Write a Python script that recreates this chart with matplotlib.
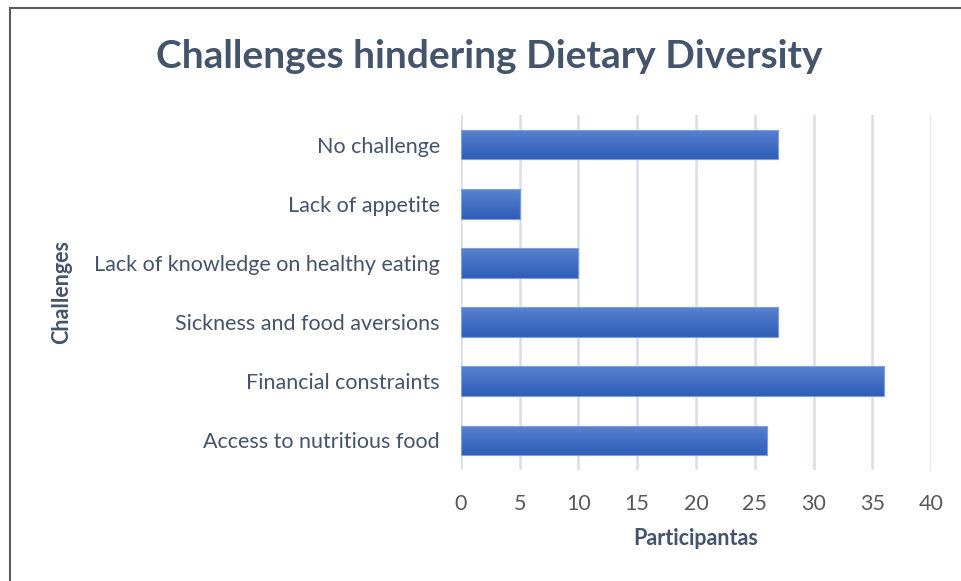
import numpy as np
import matplotlib
matplotlib.use('Agg')
import matplotlib.pyplot as plt
from matplotlib.colors import LinearSegmentedColormap
from matplotlib.lines import Line2D

categories = ['Access to nutritious food', 'Financial constraints', 'Sickness and food aversions',
              'Lack of knowledge on healthy eating', 'Lack of appetite', 'No challenge']
participants = [26, 36, 27, 10, 5, 27]
xticks = [0, 5, 10, 15, 20, 25, 30, 35, 40]

plt.rcParams['font.family'] = ['Lato', 'DejaVu Sans']
text_col = '#44546a'
tick_col = '#595959'

fig = plt.figure(figsize=(9.62, 5.81), dpi=100)
ax = fig.add_axes([0.479, 0.191, 0.489, 0.611])

y = np.arange(len(categories))
bars = ax.barh(y, participants, height=0.5, color='none', edgecolor='#7f9fdc', linewidth=0.8, zorder=3)

# vertical gradient fill, lighter on top
cmap = LinearSegmentedColormap.from_list('g', ['#2e5eb8', '#5a82d0'])
grad = np.linspace(0, 1, 64).reshape(-1, 1)
for b in bars:
    x0, y0, w, h = b.get_x(), b.get_y(), b.get_width(), b.get_height()
    im = ax.imshow(grad, cmap=cmap, aspect='auto', origin='lower',
                   extent=[x0, x0 + w, y0, y0 + h], zorder=2)
    im.set_clip_path(b)

ax.set_xlim(0, 40)
ax.set_ylim(-0.5, len(categories) - 0.5)
ax.set_xticks(xticks)
ax.set_yticks(y)
ax.set_yticklabels(categories, fontsize=15.5, color=text_col)
ax.tick_params(axis='x', labelsize=15.5, labelcolor=tick_col, length=0, pad=17)
ax.tick_params(axis='y', length=0, pad=15)
ax.grid(axis='x', color='#d9dde6', linewidth=1.8, zorder=0)
for s in ax.spines.values():
    s.set_visible(False)

ax.set_xlabel('Participantas', fontsize=15.5, fontweight='bold', color=text_col, labelpad=10)
fig.text(0.064, 0.497, 'Challenges', rotation=90, fontsize=15.5, fontweight='bold',
         color=text_col, ha='center', va='center')
fig.text(0.509, 0.902, 'Challenges hindering Dietary Diversity', fontsize=28,
         fontweight='bold', color=text_col, ha='center', va='center')

# chart frame (left and top edges visible)
fig.add_artist(Line2D([0.0105, 0.0105], [0, 0.986], color='#5a5a5a', linewidth=1.5))
fig.add_artist(Line2D([0.0105, 1.0], [0.986, 0.986], color='#5a5a5a', linewidth=1.5))

fig.savefig('out.png', dpi=100)
